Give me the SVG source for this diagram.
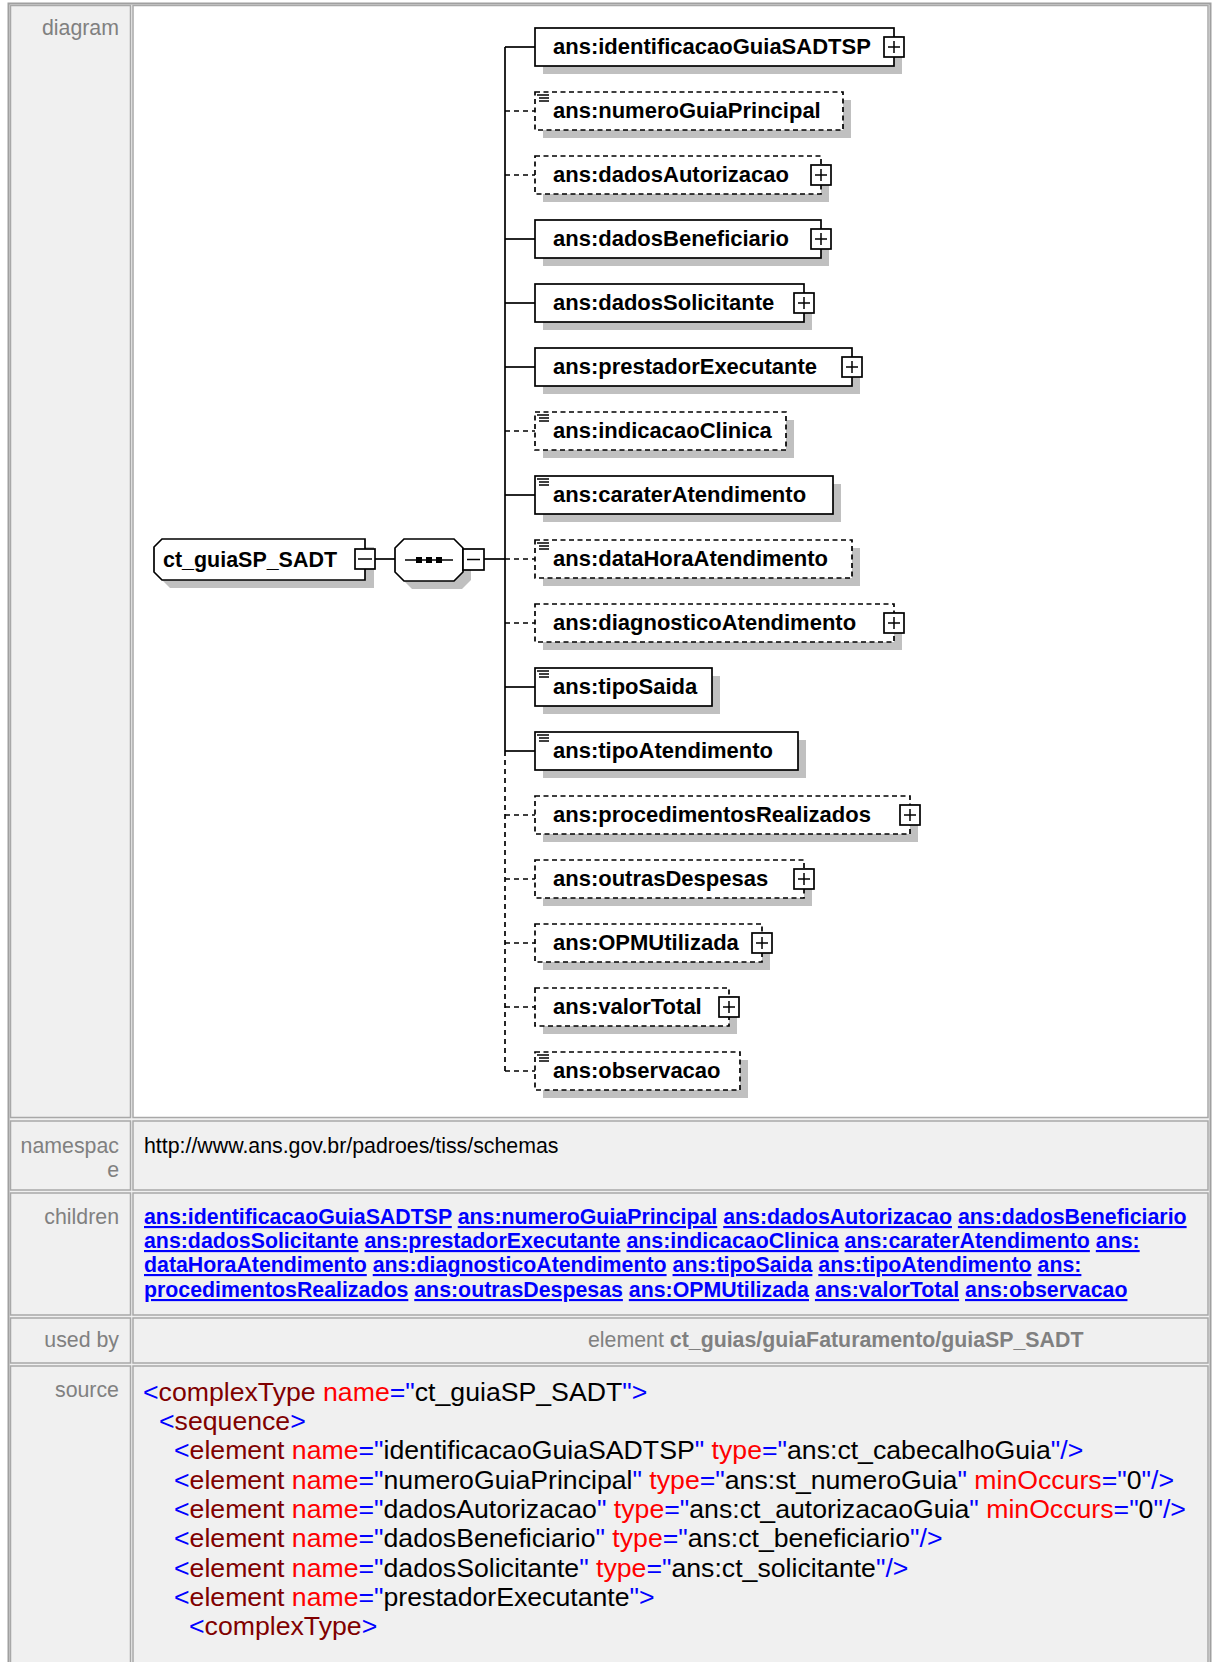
<svg xmlns="http://www.w3.org/2000/svg" width="1214" height="1662" viewBox="0 0 1214 1662">
<style>
.cellL{fill:#f0f0f0;stroke:#a8a8a8;stroke-width:1.5}
.cellR{fill:#f0f0f0;stroke:#a8a8a8;stroke-width:1.5}
.lbl{font-family:"Liberation Sans",Arial,sans-serif;font-size:21.33px;fill:#808080;text-anchor:end}
.txt{font-family:"Liberation Sans",Arial,sans-serif;font-size:21.33px;fill:#000}
.lnk{font-family:"Liberation Sans",Arial,sans-serif;font-size:21.33px;font-weight:bold;fill:#0000ff}
.u{text-decoration:underline}
.src{font-family:"Liberation Sans",Arial,sans-serif;font-size:26.67px;fill:#000}
.b{fill:#0000ff}.e{fill:#800000}.a{fill:#ff0000}
.box{fill:#fff;stroke:#000;stroke-width:1.7}
.opt{stroke-dasharray:5 3.5}
.sh{fill:#c0c0c0}
.nt{font-family:"Liberation Sans",Arial,sans-serif;font-size:22px;font-weight:bold;fill:#000}
.ln{stroke:#000;stroke-width:1.7;fill:none}
.dl{stroke:#000;stroke-width:1.7;fill:none;stroke-dasharray:5 4}
.ic{stroke:#000;stroke-width:1.5}
</style>
<rect x="0" y="0" width="1214" height="1662" fill="#fff"/>
<g id="table">
<rect x="8.5" y="3.5" width="1202" height="1670" fill="#f0f0f0" stroke="#a0a0a0" stroke-width="2"/>
<rect class="cellL" x="10.5" y="5.5" width="120" height="1112"/>
<rect x="133" y="5.5" width="1075" height="1112" fill="#fff" stroke="#a8a8a8" stroke-width="1.5"/>
<rect class="cellL" x="10.5" y="1121" width="120" height="69"/>
<rect class="cellR" x="133" y="1121" width="1075" height="69"/>
<rect class="cellL" x="10.5" y="1193" width="120" height="122"/>
<rect class="cellR" x="133" y="1193" width="1075" height="122"/>
<rect class="cellL" x="10.5" y="1318" width="120" height="45"/>
<rect class="cellR" x="133" y="1318" width="1075" height="45"/>
<rect class="cellL" x="10.5" y="1366" width="120" height="310"/>
<rect class="cellR" x="133" y="1366" width="1075" height="310"/>
<text class="lbl" x="119" y="35">diagram</text>
<text class="lbl" x="119" y="1153">namespac</text>
<text class="lbl" x="119" y="1177">e</text>
<text class="lbl" x="119" y="1224">children</text>
<text class="lbl" x="119" y="1347">used by</text>
<text class="lbl" x="119" y="1397">source</text>
<text class="txt" x="144" y="1153">http://www.ans.gov.br/padroes/tiss/schemas</text>
<text class="lnk" x="144" y="1224"><tspan class="u">ans:identificacaoGuiaSADTSP</tspan> <tspan class="u">ans:numeroGuiaPrincipal</tspan> <tspan class="u">ans:dadosAutorizacao</tspan> <tspan class="u">ans:dadosBeneficiario</tspan></text>
<text class="lnk" x="144" y="1248"><tspan class="u">ans:dadosSolicitante</tspan> <tspan class="u">ans:prestadorExecutante</tspan> <tspan class="u">ans:indicacaoClinica</tspan> <tspan class="u">ans:caraterAtendimento</tspan> <tspan class="u">ans:</tspan></text>
<text class="lnk" x="144" y="1272"><tspan class="u">dataHoraAtendimento</tspan> <tspan class="u">ans:diagnosticoAtendimento</tspan> <tspan class="u">ans:tipoSaida</tspan> <tspan class="u">ans:tipoAtendimento</tspan> <tspan class="u">ans:</tspan></text>
<text class="lnk" x="144" y="1297"><tspan class="u">procedimentosRealizados</tspan> <tspan class="u">ans:outrasDespesas</tspan> <tspan class="u">ans:OPMUtilizada</tspan> <tspan class="u">ans:valorTotal</tspan> <tspan class="u">ans:observacao</tspan></text>
<text class="txt" x="588" y="1347" style="fill:#808080">element <tspan font-weight="bold">ct_guias/guiaFaturamento/guiaSP_SADT</tspan></text>
<text class="src" x="143" y="1401"><tspan class="b">&lt;</tspan><tspan class="e">complexType</tspan> <tspan class="a">name</tspan><tspan class="b">="</tspan>ct_guiaSP_SADT<tspan class="b">"&gt;</tspan></text>
<text class="src" x="159" y="1430"><tspan class="b">&lt;</tspan><tspan class="e">sequence</tspan><tspan class="b">&gt;</tspan></text>
<text class="src" x="174" y="1459"><tspan class="b">&lt;</tspan><tspan class="e">element</tspan> <tspan class="a">name</tspan><tspan class="b">="</tspan>identificacaoGuiaSADTSP<tspan class="b">"</tspan> <tspan class="a">type</tspan><tspan class="b">="</tspan>ans:ct_cabecalhoGuia<tspan class="b">"/&gt;</tspan></text>
<text class="src" x="174" y="1489"><tspan class="b">&lt;</tspan><tspan class="e">element</tspan> <tspan class="a">name</tspan><tspan class="b">="</tspan>numeroGuiaPrincipal<tspan class="b">"</tspan> <tspan class="a">type</tspan><tspan class="b">="</tspan>ans:st_numeroGuia<tspan class="b">"</tspan> <tspan class="a">minOccurs</tspan><tspan class="b">="</tspan>0<tspan class="b">"/&gt;</tspan></text>
<text class="src" x="174" y="1518"><tspan class="b">&lt;</tspan><tspan class="e">element</tspan> <tspan class="a">name</tspan><tspan class="b">="</tspan>dadosAutorizacao<tspan class="b">"</tspan> <tspan class="a">type</tspan><tspan class="b">="</tspan>ans:ct_autorizacaoGuia<tspan class="b">"</tspan> <tspan class="a">minOccurs</tspan><tspan class="b">="</tspan>0<tspan class="b">"/&gt;</tspan></text>
<text class="src" x="174" y="1547"><tspan class="b">&lt;</tspan><tspan class="e">element</tspan> <tspan class="a">name</tspan><tspan class="b">="</tspan>dadosBeneficiario<tspan class="b">"</tspan> <tspan class="a">type</tspan><tspan class="b">="</tspan>ans:ct_beneficiario<tspan class="b">"/&gt;</tspan></text>
<text class="src" x="174" y="1577"><tspan class="b">&lt;</tspan><tspan class="e">element</tspan> <tspan class="a">name</tspan><tspan class="b">="</tspan>dadosSolicitante<tspan class="b">"</tspan> <tspan class="a">type</tspan><tspan class="b">="</tspan>ans:ct_solicitante<tspan class="b">"/&gt;</tspan></text>
<text class="src" x="174" y="1606"><tspan class="b">&lt;</tspan><tspan class="e">element</tspan> <tspan class="a">name</tspan><tspan class="b">="</tspan>prestadorExecutante<tspan class="b">"&gt;</tspan></text>
<text class="src" x="189" y="1635"><tspan class="b">&lt;</tspan><tspan class="e">complexType</tspan><tspan class="b">&gt;</tspan></text>
</g>
<g id="connectors">
<line class="ln" x1="375" y1="559" x2="395" y2="559"/>
<line class="ln" x1="484" y1="559" x2="505" y2="559"/>
<line class="ln" x1="505" y1="47" x2="505" y2="751"/>
<line class="dl" x1="505" y1="751" x2="505" y2="1071"/>
<line class="ln" x1="505" y1="47" x2="535" y2="47"/>
<line class="dl" x1="505" y1="111" x2="535" y2="111"/>
<line class="dl" x1="505" y1="175" x2="535" y2="175"/>
<line class="ln" x1="505" y1="239" x2="535" y2="239"/>
<line class="ln" x1="505" y1="303" x2="535" y2="303"/>
<line class="ln" x1="505" y1="367" x2="535" y2="367"/>
<line class="dl" x1="505" y1="431" x2="535" y2="431"/>
<line class="ln" x1="505" y1="495" x2="535" y2="495"/>
<line class="dl" x1="505" y1="559" x2="535" y2="559"/>
<line class="dl" x1="505" y1="623" x2="535" y2="623"/>
<line class="ln" x1="505" y1="687" x2="535" y2="687"/>
<line class="ln" x1="505" y1="751" x2="535" y2="751"/>
<line class="dl" x1="505" y1="815" x2="535" y2="815"/>
<line class="dl" x1="505" y1="879" x2="535" y2="879"/>
<line class="dl" x1="505" y1="943" x2="535" y2="943"/>
<line class="dl" x1="505" y1="1007" x2="535" y2="1007"/>
<line class="dl" x1="505" y1="1071" x2="535" y2="1071"/>
</g>
<g id="root">
<polygon class="sh" points="170,547 374,547 374,588 170,588 162,580 162,555"/>
<polygon class="box" points="162,539 365,539 365,580 162,580 154,572 154,547"/>
<text class="nt" x="163" y="567" textLength="174" lengthAdjust="spacingAndGlyphs">ct_guiaSP_SADT</text>
<rect class="box" x="355" y="549" width="20" height="20"/>
<line class="ic" x1="358" y1="559" x2="372" y2="559"/>
</g>
<g id="sequence">
<polygon class="sh" points="412,547 462,547 471,556 471,580 462,589 412,589 403,580 403,556"/>
<polygon class="box" points="404,539 454,539 463,548 463,572 454,581 404,581 395,572 395,548"/>
<line class="ln" x1="405" y1="560" x2="453" y2="560"/>
<rect x="416" y="557" width="6" height="6" fill="#000"/>
<rect x="426" y="557" width="6" height="6" fill="#000"/>
<rect x="436" y="557" width="6" height="6" fill="#000"/>
<rect class="box" x="463" y="549" width="21" height="21"/>
<line class="ic" x1="467" y1="559.5" x2="480" y2="559.5"/>
</g>
<g id="n1">
<rect class="sh" x="543" y="36" width="359" height="38"/>
<rect class="box" x="535" y="28" width="359" height="38"/>
<text class="nt" x="553" y="54">ans:identificacaoGuiaSADTSP</text>
<rect class="box" x="884" y="37" width="20" height="20"/>
<path class="ic" d="M888 47H900M894 41V53"/>
</g>
<g id="n2">
<rect class="sh" x="543" y="100" width="308" height="38"/>
<rect class="box opt" x="535" y="92" width="308" height="38"/>
<path class="ic" d="M537 95H549M539 98H549M539 101H549"/>
<text class="nt" x="553" y="118">ans:numeroGuiaPrincipal</text>
</g>
<g id="n3">
<rect class="sh" x="543" y="164" width="286" height="38"/>
<rect class="box opt" x="535" y="156" width="286" height="38"/>
<text class="nt" x="553" y="182">ans:dadosAutorizacao</text>
<rect class="box" x="811" y="165" width="20" height="20"/>
<path class="ic" d="M815 175H827M821 169V181"/>
</g>
<g id="n4">
<rect class="sh" x="543" y="228" width="286" height="38"/>
<rect class="box" x="535" y="220" width="286" height="38"/>
<text class="nt" x="553" y="246">ans:dadosBeneficiario</text>
<rect class="box" x="811" y="229" width="20" height="20"/>
<path class="ic" d="M815 239H827M821 233V245"/>
</g>
<g id="n5">
<rect class="sh" x="543" y="292" width="269" height="38"/>
<rect class="box" x="535" y="284" width="269" height="38"/>
<text class="nt" x="553" y="310">ans:dadosSolicitante</text>
<rect class="box" x="794" y="293" width="20" height="20"/>
<path class="ic" d="M798 303H810M804 297V309"/>
</g>
<g id="n6">
<rect class="sh" x="543" y="356" width="317" height="38"/>
<rect class="box" x="535" y="348" width="317" height="38"/>
<text class="nt" x="553" y="374">ans:prestadorExecutante</text>
<rect class="box" x="842" y="357" width="20" height="20"/>
<path class="ic" d="M846 367H858M852 361V373"/>
</g>
<g id="n7">
<rect class="sh" x="543" y="420" width="251" height="38"/>
<rect class="box opt" x="535" y="412" width="251" height="38"/>
<path class="ic" d="M537 415H549M539 418H549M539 421H549"/>
<text class="nt" x="553" y="438">ans:indicacaoClinica</text>
</g>
<g id="n8">
<rect class="sh" x="543" y="484" width="298" height="38"/>
<rect class="box" x="535" y="476" width="298" height="38"/>
<path class="ic" d="M537 479H549M539 482H549M539 485H549"/>
<text class="nt" x="553" y="502">ans:caraterAtendimento</text>
</g>
<g id="n9">
<rect class="sh" x="543" y="548" width="317" height="38"/>
<rect class="box opt" x="535" y="540" width="317" height="38"/>
<path class="ic" d="M537 543H549M539 546H549M539 549H549"/>
<text class="nt" x="553" y="566">ans:dataHoraAtendimento</text>
</g>
<g id="n10">
<rect class="sh" x="543" y="612" width="359" height="38"/>
<rect class="box opt" x="535" y="604" width="359" height="38"/>
<text class="nt" x="553" y="630">ans:diagnosticoAtendimento</text>
<rect class="box" x="884" y="613" width="20" height="20"/>
<path class="ic" d="M888 623H900M894 617V629"/>
</g>
<g id="n11">
<rect class="sh" x="543" y="676" width="177" height="38"/>
<rect class="box" x="535" y="668" width="177" height="38"/>
<path class="ic" d="M537 671H549M539 674H549M539 677H549"/>
<text class="nt" x="553" y="694">ans:tipoSaida</text>
</g>
<g id="n12">
<rect class="sh" x="543" y="740" width="263" height="38"/>
<rect class="box" x="535" y="732" width="263" height="38"/>
<path class="ic" d="M537 735H549M539 738H549M539 741H549"/>
<text class="nt" x="553" y="758">ans:tipoAtendimento</text>
</g>
<g id="n13">
<rect class="sh" x="543" y="804" width="375" height="38"/>
<rect class="box opt" x="535" y="796" width="375" height="38"/>
<text class="nt" x="553" y="822">ans:procedimentosRealizados</text>
<rect class="box" x="900" y="805" width="20" height="20"/>
<path class="ic" d="M904 815H916M910 809V821"/>
</g>
<g id="n14">
<rect class="sh" x="543" y="868" width="269" height="38"/>
<rect class="box opt" x="535" y="860" width="269" height="38"/>
<text class="nt" x="553" y="886">ans:outrasDespesas</text>
<rect class="box" x="794" y="869" width="20" height="20"/>
<path class="ic" d="M798 879H810M804 873V885"/>
</g>
<g id="n15">
<rect class="sh" x="543" y="932" width="227" height="38"/>
<rect class="box opt" x="535" y="924" width="227" height="38"/>
<text class="nt" x="553" y="950">ans:OPMUtilizada</text>
<rect class="box" x="752" y="933" width="20" height="20"/>
<path class="ic" d="M756 943H768M762 937V949"/>
</g>
<g id="n16">
<rect class="sh" x="543" y="996" width="194" height="38"/>
<rect class="box opt" x="535" y="988" width="194" height="38"/>
<text class="nt" x="553" y="1014">ans:valorTotal</text>
<rect class="box" x="719" y="997" width="20" height="20"/>
<path class="ic" d="M723 1007H735M729 1001V1013"/>
</g>
<g id="n17">
<rect class="sh" x="543" y="1060" width="205" height="38"/>
<rect class="box opt" x="535" y="1052" width="205" height="38"/>
<path class="ic" d="M537 1055H549M539 1058H549M539 1061H549"/>
<text class="nt" x="553" y="1078">ans:observacao</text>
</g>
</svg>
